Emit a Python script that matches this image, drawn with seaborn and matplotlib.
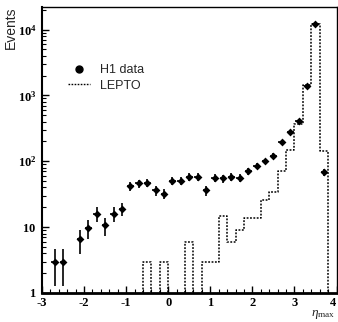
import numpy as np
import pandas as pd
import seaborn as sns
import matplotlib
matplotlib.use("Agg")
import matplotlib.pyplot as plt
from matplotlib.lines import Line2D
from matplotlib.ticker import MultipleLocator, LogLocator, NullFormatter

# H1 data: bin centres in eta_max and number of events
h1_eta = [-2.7, -2.5, -2.1, -1.9, -1.7, -1.5, -1.3, -1.1, -0.9, -0.7, -0.5, -0.3, -0.1,
          0.1, 0.3, 0.5, 0.7, 0.9, 1.1, 1.3, 1.5, 1.7, 1.9, 2.1, 2.3, 2.5, 2.7, 2.9,
          3.1, 3.3, 3.5, 3.7]
h1_events = [3, 3, 6.5, 9.7, 16, 10.6, 16, 19, 42, 46, 47, 36, 32,
             51, 50, 58, 58, 36, 56, 55, 58, 56, 71, 85, 100, 121, 196, 275,
             415, 1380, 12000, 69]

# LEPTO prediction (non-empty bins only)
lepto_eta = [-0.5, -0.1, 0.5, 0.9, 1.1, 1.3, 1.5, 1.7, 1.9, 2.1, 2.3, 2.5, 2.7, 2.9,
             3.1, 3.3, 3.5, 3.7]
lepto_events = [3, 3, 6, 3, 3, 15, 6, 9, 14, 14, 26, 34, 71, 149,
                368, 1450, 12000, 145]
bin_edges = [round(-3.0 + 0.2 * i, 1) for i in range(36)]

xtick_vals = [-3, -2, -1, 0, 1, 2, 3, 4]
xtick_labels = ['-3', '-2', '-1', '0', '1', '2', '3', '4']
ytick_vals = [1, 10, 100, 1000, 10000]
ytick_labels = [r'$\mathbf{1}$', r'$\mathbf{10}$', r'$\mathbf{10^{2}}$',
                r'$\mathbf{10^{3}}$', r'$\mathbf{10^{4}}$']

lepto = pd.DataFrame({'eta': lepto_eta, 'events': lepto_events})
h1 = pd.DataFrame({'eta': h1_eta, 'events': h1_events})

sns.set_style("ticks")
plt.rcParams['font.family'] = ['Liberation Sans', 'DejaVu Sans']
plt.rcParams['mathtext.fontset'] = 'custom'
plt.rcParams['mathtext.rm'] = 'Liberation Serif'
plt.rcParams['mathtext.it'] = 'Liberation Serif:italic'
plt.rcParams['mathtext.bf'] = 'Liberation Serif:bold'
plt.rcParams['axes.unicode_minus'] = False

dots = (0, (1.2, 1.0))

fig = plt.figure(figsize=(3.38, 3.22), dpi=100)
ax = fig.add_axes([0.1243, 0.0901, 0.8713, 0.8882])
ax.set_yscale('log')

sns.histplot(data=lepto, x='eta', weights='events', bins=bin_edges, element='step',
             fill=False, color='black', linestyle=dots, linewidth=1.1, ax=ax)

ax.errorbar(h1['eta'], h1['events'], yerr=np.sqrt(h1['events']), xerr=0.08, fmt='none',
            ecolor='black', elinewidth=1.2, capsize=0)
sns.scatterplot(data=h1, x='eta', y='events', color='black', marker='D', s=16,
                linewidth=0, ax=ax)

ax.set_xlim(-3, 4)
ax.set_ylim(1, 2.2e4)

ax.set_xticks(xtick_vals, labels=xtick_labels)
ax.xaxis.set_minor_locator(MultipleLocator(0.2))
for lab in ax.get_xticklabels():
    lab.set_fontfamily('Liberation Serif')
    lab.set_fontweight('bold')
    lab.set_fontsize(9)
ax.get_xticklabels()[-1].set_ha('right')
ax.set_yticks(ytick_vals, labels=ytick_labels)
ax.yaxis.set_minor_locator(LogLocator(base=10, subs=np.arange(2, 10)))
ax.yaxis.set_minor_formatter(NullFormatter())
for lab in ax.get_yticklabels():
    lab.set_fontsize(9)

ax.tick_params(which='both', direction='in', top=False, right=False, colors='black')
ax.tick_params(which='major', length=5, width=1)
ax.tick_params(which='minor', length=3, width=0.8)
ax.tick_params(axis='x', pad=3)
ax.tick_params(axis='y', pad=4)

for side in ['top', 'right']:
    ax.spines[side].set_linewidth(1.0)
ax.spines['left'].set_linewidth(1.5)
ax.spines['bottom'].set_linewidth(2.0)
for sp in ax.spines.values():
    sp.set_color('black')

ax.set_ylabel('Events', loc='top', fontsize=10)
ax.yaxis.set_label_coords(-0.082, 1.0)
ax.set_xlabel(r'$\eta_{\rm max}$', loc='right', fontsize=9.5)
ax.xaxis.set_label_coords(0.995, -0.052)
ax.xaxis.label.set_va('top')

handles = [Line2D([], [], marker='o', color='black', linestyle='none', markersize=5),
           Line2D([], [], color='black', linestyle=dots, linewidth=1.0)]
ax.legend(handles, ['H1 data', 'LEPTO'], loc='upper left', bbox_to_anchor=(0.05, 0.84),
          frameon=False, fontsize=9, handlelength=1.8, handletextpad=0.8,
          labelspacing=0.3)

fig.savefig('out.png', dpi=100)
